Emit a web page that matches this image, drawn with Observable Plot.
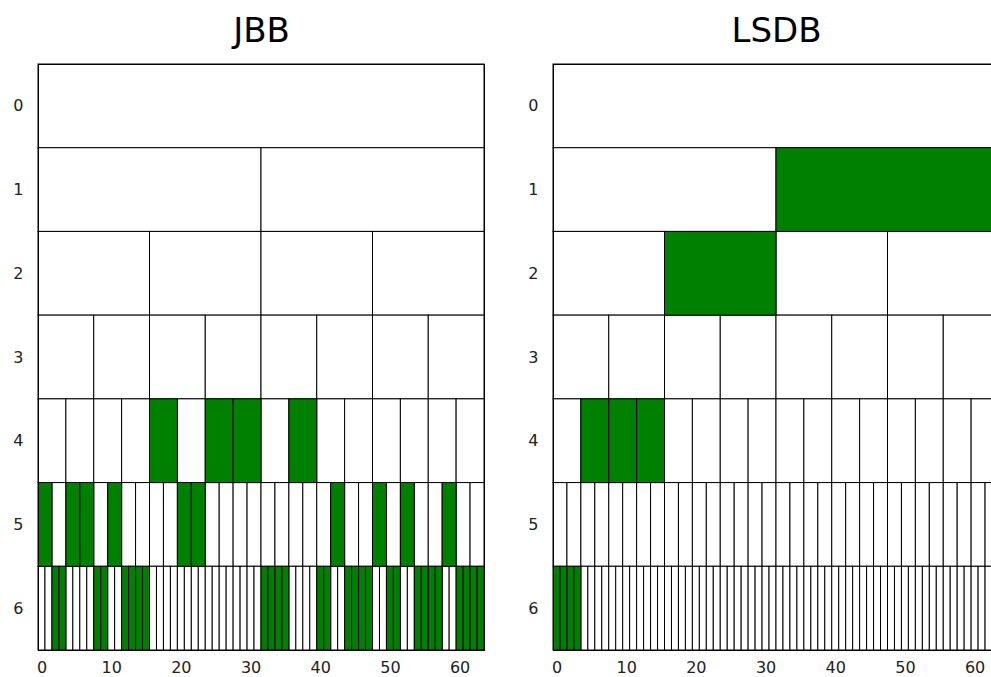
<!DOCTYPE html>
<html>
<head>
<meta charset="utf-8">
<script src="https://cdn.jsdelivr.net/npm/d3@7"></script>
<script src="https://cdn.jsdelivr.net/npm/@observablehq/plot@0.6"></script>
<style>
  html, body { margin: 0; padding: 0; background: white; overflow: hidden; }
  #wrap { display: flex; width: 991px; height: 677px; overflow: hidden; }
  #wrap svg { flex: none; }
</style>
</head>
<body>
<div id="wrap"></div>
<script>
// Levels of the dyadic decomposition (level k has 2^k cells over 64 positions)
const levels = [0, 1, 2, 3, 4, 5, 6];
const xTicks = [0, 10, 20, 30, 40, 50, 60];
const titles = ["JBB", "LSDB"];

// Highlighted (green) cell indices per level, JBB
const jbbLevel0 = [];
const jbbLevel1 = [];
const jbbLevel2 = [];
const jbbLevel3 = [];
const jbbLevel4 = [4, 6, 7, 9];
const jbbLevel5 = [0, 2, 3, 5, 10, 11, 21, 24, 26, 29];
const jbbLevel6 = [2, 3, 8, 9, 12, 13, 14, 15, 32, 33, 34, 35, 40, 41, 44, 45, 46, 47, 50, 51, 54, 55, 56, 57, 60, 61, 62, 63];

// Highlighted (green) cell indices per level, LSDB
const lsdbLevel0 = [];
const lsdbLevel1 = [1];
const lsdbLevel2 = [1];
const lsdbLevel3 = [];
const lsdbLevel4 = [1, 2, 3];
const lsdbLevel5 = [];
const lsdbLevel6 = [0, 1, 2, 3];

const jbbGreen = [jbbLevel0, jbbLevel1, jbbLevel2, jbbLevel3, jbbLevel4, jbbLevel5, jbbLevel6];
const lsdbGreen = [lsdbLevel0, lsdbLevel1, lsdbLevel2, lsdbLevel3, lsdbLevel4, lsdbLevel5, lsdbLevel6];

function buildCells(greenByLevel) {
  const cells = [];
  for (const k of levels) {
    const n = 2 ** k;
    const w = 64 / n;
    for (let i = 0; i < n; i++) {
      cells.push({
        level: k,
        x1: i * w - 0.5,
        x2: (i + 1) * w - 0.5,
        y1: k - 0.5,
        y2: k + 0.5,
        green: greenByLevel[k].includes(i)
      });
    }
  }
  return cells;
}

function panel(title, greenByLevel) {
  const cells = buildCells(greenByLevel);
  return Plot.plot({
    width: 515,
    height: 677,
    marginLeft: 38,
    marginRight: 31,
    marginTop: 64,
    marginBottom: 27,
    style: { fontFamily: "DejaVu Sans", fontSize: "16px", background: "white", color: "#222" },
    x: { domain: [-0.5, 63.5], ticks: xTicks, tickFormat: d3.format("d"), tickSize: 0, tickPadding: 11, label: null },
    y: { domain: [-0.5, 6.5], reverse: true, ticks: levels, tickFormat: d3.format("d"), tickSize: 0, tickPadding: 15, label: null },
    marks: [
      Plot.rect(cells.filter(d => !d.green), { x1: "x1", x2: "x2", y1: "y1", y2: "y2", fill: "white", stroke: "black", strokeWidth: 1 }),
      Plot.rect(cells.filter(d => d.green), { x1: "x1", x2: "x2", y1: "y1", y2: "y2", fill: "green", stroke: "black", strokeWidth: 1 }),
      Plot.frame({ stroke: "black", strokeWidth: 1 }),
      Plot.text([title], { text: d => d, frameAnchor: "top", lineAnchor: "middle", dy: -33, fontSize: 34, fill: "black" })
    ]
  });
}

const wrap = document.getElementById("wrap");
wrap.appendChild(panel(titles[0], jbbGreen));
wrap.appendChild(panel(titles[1], lsdbGreen));
</script>
</body>
</html>
